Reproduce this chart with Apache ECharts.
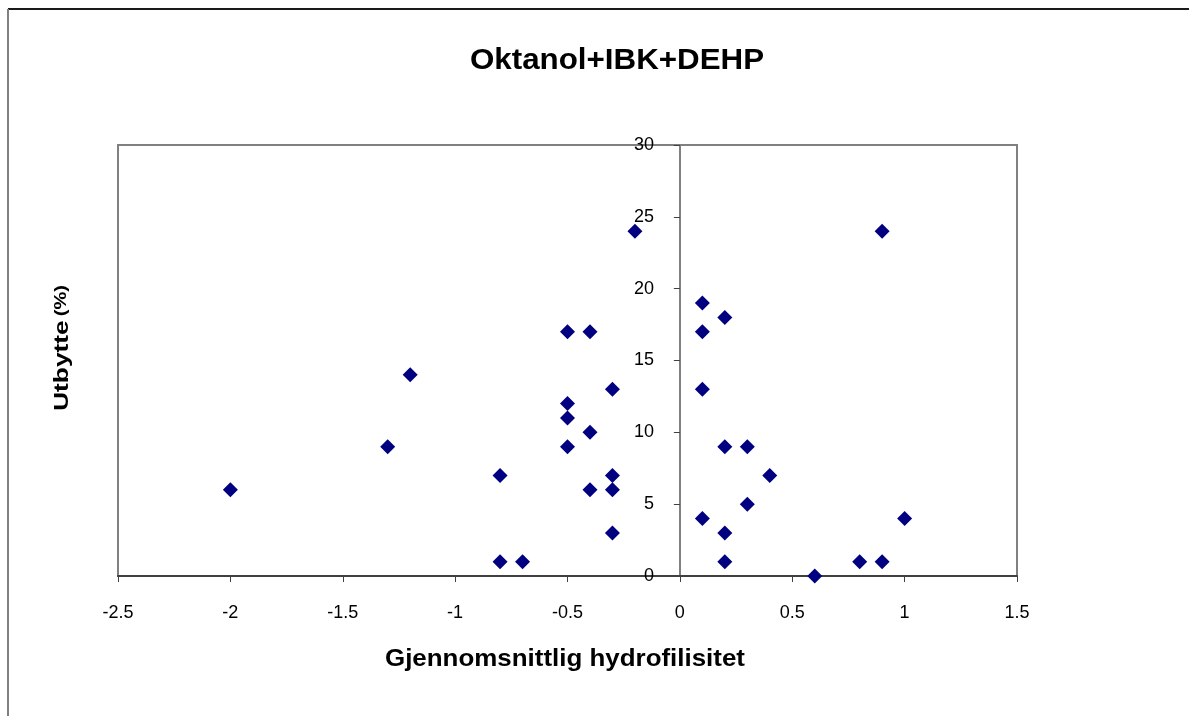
<!DOCTYPE html>
<html>
<head>
<meta charset="utf-8">
<script src="https://cdn.jsdelivr.net/npm/echarts@6/dist/echarts.min.js"></script>
<style>
  html, body { margin: 0; padding: 0; background: #fff; }
  #echart { width: 1189px; height: 716px; }
</style>
</head>
<body>
<div id="echart"></div>
<script>
// hydrophilicity (x) and yield in % (y)
var hydro = [-2, -1.3, -1.2, -0.8, -0.8, -0.7, -0.5, -0.5, -0.5, -0.5, -0.4, -0.4, -0.4,
    -0.3, -0.3, -0.3, -0.3, -0.2, 0.1, 0.1, 0.1, 0.1, 0.2, 0.2, 0.2, 0.2, 0.3, 0.3, 0.4,
    0.6, 0.8, 0.9, 0.9, 1.0];
var utbytte = [6, 9, 14, 7, 1, 1, 17, 12, 11, 9, 17, 10, 6,
    13, 7, 6, 3, 24, 19, 17, 13, 4, 18, 9, 3, 1, 9, 5, 7,
    0, 1, 1, 24, 4];

var points = hydro.map(function (x, i) { return [x, utbytte[i]]; });

var myChart = echarts.init(document.getElementById('echart'));
var font = 'Arial, "Liberation Sans", sans-serif';
var option = {
    animation: false,
    grid: {
        left: 118, right: 172, top: 145, bottom: 140,
        show: true,
        borderColor: '#808080',
        borderWidth: 2
    },
    xAxis: {
        type: 'value',
        min: -2.5, max: 1.5, interval: 0.5,
        axisLine: { onZero: false, lineStyle: { color: '#404040', width: 2 } },
        axisTick: { show: true, length: 6, lineStyle: { color: '#404040' } },
        axisLabel: { margin: 28, fontFamily: font, fontSize: 18, color: '#000' },
        splitLine: { show: false }
    },
    yAxis: {
        type: 'value',
        min: 0, max: 30, interval: 5,
        axisLine: { show: true, onZero: true, lineStyle: { color: '#808080', width: 2 } },
        axisTick: { show: true, length: 6, lineStyle: { color: '#404040' } },
        // labels sit beside the axis line at x = 0, not at the grid edge
        axisLabel: { margin: -536, fontFamily: font, fontSize: 18, color: '#000' },
        splitLine: { show: false }
    },
    graphic: [
        { type: 'line', shape: { x1: 8, y1: 9, x2: 1189, y2: 9 }, style: { stroke: '#1a1a1a', lineWidth: 2 } },
        { type: 'line', shape: { x1: 8, y1: 9, x2: 8, y2: 716 }, style: { stroke: '#808080', lineWidth: 2 } },
        {
            type: 'text', x: 617, y: 61, scaleX: 1.08,
            style: {
                text: 'Oktanol+IBK+DEHP', font: 'bold 29px ' + font, fill: '#000',
                align: 'center', verticalAlign: 'middle'
            }
        },
        {
            type: 'text', x: 565, y: 659, scaleX: 1.08,
            style: {
                text: 'Gjennomsnittlig hydrofilisitet', font: 'bold 24px ' + font, fill: '#000',
                align: 'center', verticalAlign: 'middle'
            }
        },
        {
            type: 'text', x: 62, y: 348, rotation: Math.PI / 2, scaleX: 1.25,
            style: {
                text: '{a|Utbytte} {b|(%)}',
                fill: '#000',
                align: 'center', verticalAlign: 'middle',
                rich: {
                    a: { fontFamily: font, fontSize: 21, fontWeight: 'bold' },
                    b: { fontFamily: font, fontSize: 16, fontWeight: 'bold' }
                }
            }
        }
    ],
    series: [{
        type: 'scatter',
        data: points,
        symbol: 'diamond',
        symbolSize: 15,
        itemStyle: { color: '#000080', opacity: 1 }
    }]
};
myChart.setOption(option);
</script>
</body>
</html>
